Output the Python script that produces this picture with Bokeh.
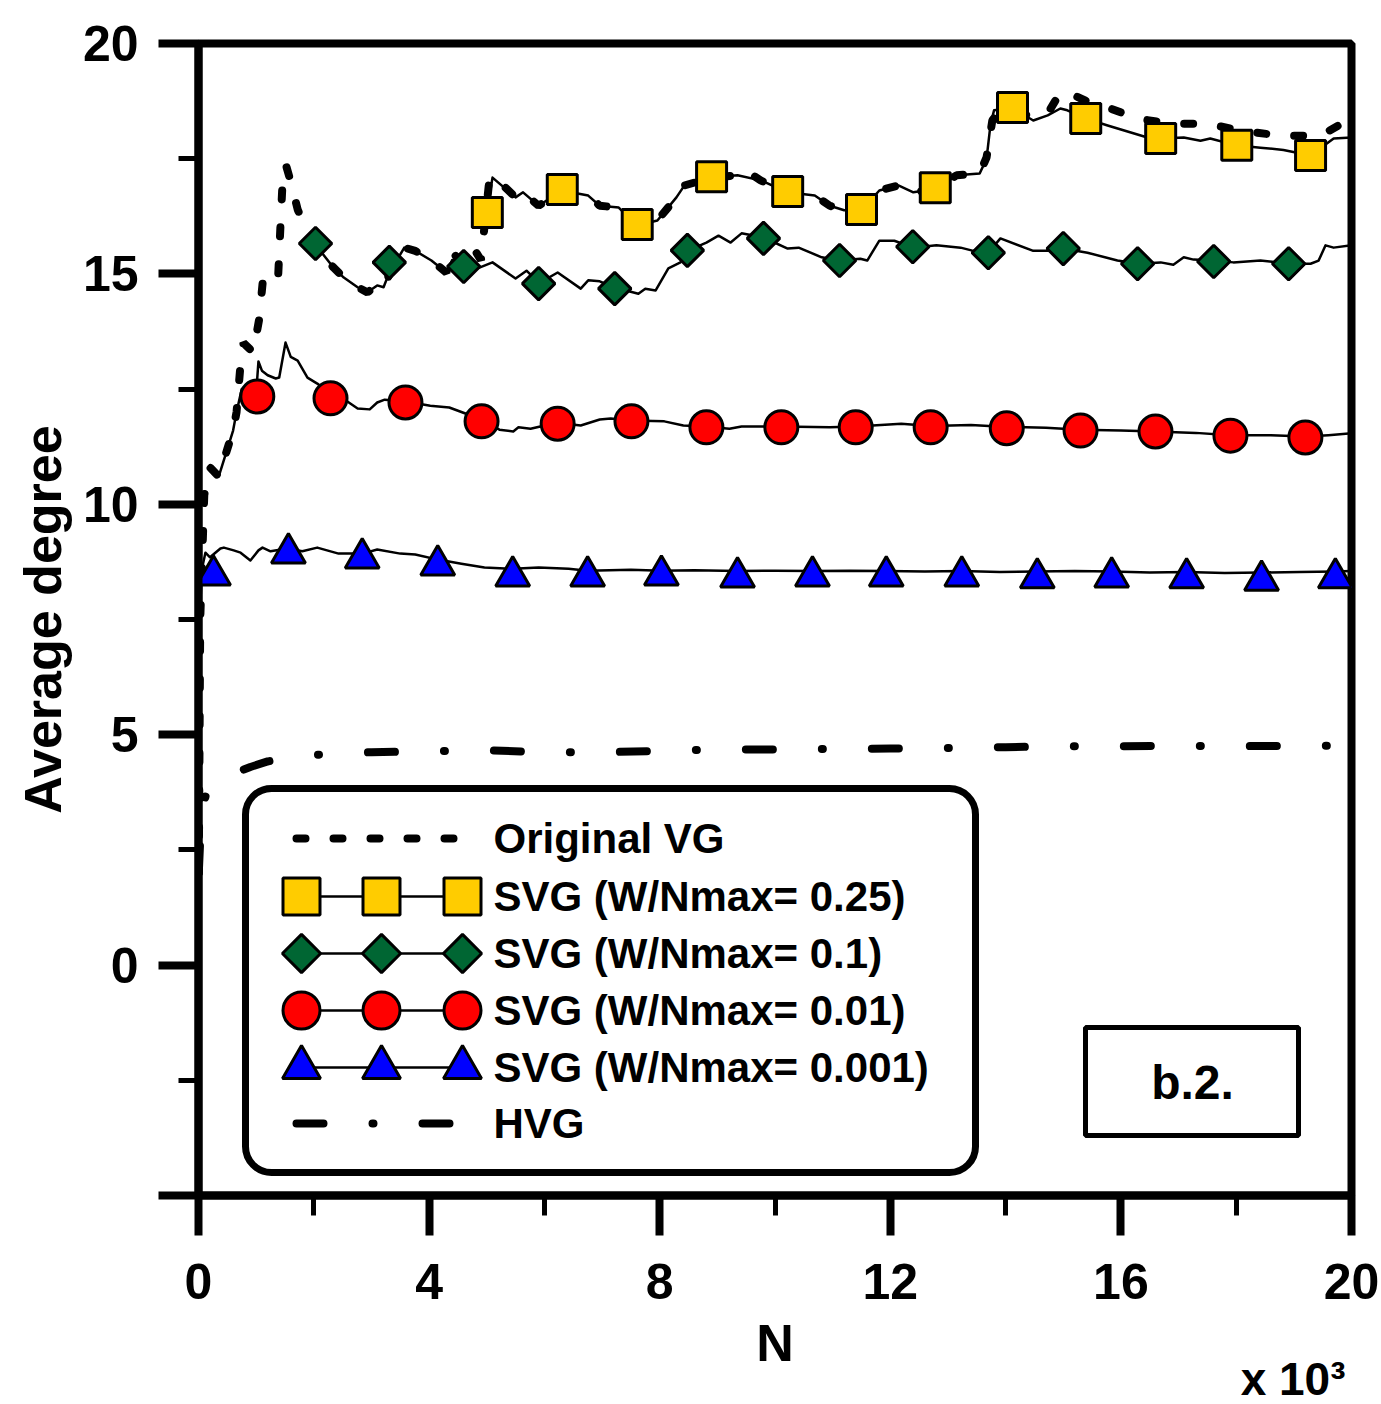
import math
from bokeh.plotting import figure
from bokeh.models import Range1d, SingleIntervalTicker, BoxAnnotation, Title
from bokeh.core.properties import value
from bokeh.embed import file_html
from bokeh.resources import INLINE

FONT = "Liberation Sans"

# ---- series (N in thousands, average degree) ----
vg_n = [0.005, 0.03, 0.1, 0.2, 0.35, 0.5, 0.6, 0.66, 0.72, 0.78, 0.95, 1.05, 1.12, 1.25, 1.38,
        1.42, 1.47, 1.52, 1.6, 1.72, 1.85, 2.0, 2.15, 2.34, 2.52, 2.76, 2.93, 3.1, 3.21, 3.35,
        3.57, 3.76, 4.04, 4.3, 4.4, 4.6, 4.8, 4.9, 5.05, 5.3, 5.5, 5.63, 5.9, 6.3, 6.76, 6.96,
        7.29, 7.6, 7.96, 8.29, 8.43, 8.9, 9.35, 9.49, 9.75, 10.22, 10.69, 10.95, 11.2, 11.5,
        11.81, 12.14, 12.4, 12.8, 13.15, 13.55, 13.67, 13.77, 13.9, 14.2, 14.48, 14.73, 14.95,
        15.07, 15.4, 15.77, 16.29, 16.86, 17.5, 18.07, 18.77, 19.46, 19.86, 20.0]
vg_k = [2.0, 7.5, 10.2, 10.8, 10.6, 11.2, 11.6, 12.0, 12.9, 13.5, 13.3, 14.0, 14.9, 14.8, 14.9,
        16.0, 17.3, 17.35, 17.0, 16.4, 16.0, 15.7, 15.4, 15.14, 14.92, 14.71, 14.6, 14.75, 14.71, 15.1,
        15.57, 15.5, 15.29, 15.03, 15.5, 15.14, 15.5, 15.3, 17.1, 16.9, 16.66, 16.77, 16.48, 16.81, 16.7, 16.48,
        16.44, 16.1, 16.16, 16.66, 16.92, 17.09, 17.14, 17.24, 17.03, 16.77, 16.7, 16.48, 16.38, 16.38,
        16.81, 16.92, 16.77, 16.85, 17.14, 17.18, 17.53, 18.33, 18.55, 18.5, 18.4, 18.48, 18.94,
        18.94, 18.75, 18.61, 18.37, 18.26, 18.26, 18.11, 18.0, 18.0, 18.28, 18.3]

w025_n = [5.0, 5.1, 5.5, 5.63, 5.9, 6.3, 6.76, 6.96, 7.29, 7.6, 7.96, 8.29, 8.43, 8.9, 9.35, 9.75,
          10.22, 10.69, 10.95, 11.2, 11.5, 11.81, 12.14, 12.4, 12.8, 13.15, 13.55, 13.67, 13.74,
          13.8, 14.12, 14.48, 14.73, 14.95, 15.07, 15.4, 15.77, 16.46, 16.69, 17.09, 17.38, 17.55,
          18.0, 18.42, 18.82, 19.29, 19.69, 20.0]
w025_k = [16.33, 17.09, 16.66, 16.77, 16.48, 16.81, 16.7, 16.48, 16.44, 16.05, 16.16, 16.66, 16.92, 17.09, 17.14, 17.03,
          16.77, 16.7, 16.48, 16.38, 16.38, 16.81, 16.92, 16.77, 16.85, 17.14, 17.18, 17.5, 18.26,
          18.55, 18.6, 18.33, 18.44, 18.59, 18.55, 18.37, 18.22, 17.96, 17.94, 17.96, 17.89, 17.94,
          17.79, 17.74, 17.69, 17.57, 17.94, 17.96]

w01_n = [2.0, 2.34, 2.52, 2.76, 2.93, 3.1, 3.21, 3.3, 3.57, 3.76, 4.04, 4.3, 4.4, 4.6, 4.84,
         5.1, 5.5, 5.69, 5.91, 6.23, 6.63, 6.76, 6.96, 7.2, 7.63, 7.75, 7.93, 8.15, 8.36, 8.5,
         8.81, 9.02, 9.23, 9.42, 9.8, 10.22, 10.41, 10.81, 11.12, 11.48, 11.6, 11.81, 12.07, 12.4, 12.8,
         13.22, 13.44, 13.7, 13.91, 14.48, 14.73, 15.0, 15.42, 15.94, 16.3, 16.69, 16.91, 17.09, 17.26, 17.61,
         17.95, 18.42, 18.91, 19.29, 19.43, 19.55, 19.69, 20.0]
w01_k = [15.68, 15.14, 14.92, 14.71, 14.6, 14.75, 14.71, 15.0, 15.57, 15.5, 15.29, 15.03, 15.3, 15.14, 15.12,
         15.25, 14.9, 15.07, 14.8, 15.03, 14.68, 14.86, 14.84, 14.71, 14.57, 14.68, 14.64, 15.12, 15.25, 15.51,
         15.68, 15.83, 15.68, 15.88, 15.79, 15.55, 15.57, 15.36, 15.29, 15.33, 15.29, 15.72, 15.72, 15.57, 15.62,
         15.57, 15.5, 15.46, 15.77, 15.5, 15.5, 15.55, 15.46, 15.29, 15.22, 15.25, 15.2, 15.36, 15.31, 15.29,
         15.25, 15.29, 15.22, 15.22, 15.29, 15.62, 15.57, 15.62]

w001_n = [0.2, 0.35, 0.5, 0.6, 0.66, 0.75, 0.9, 1.0, 1.04, 1.1, 1.2, 1.34, 1.4, 1.51, 1.6, 1.72, 1.89, 2.06,
          2.29, 2.5, 2.76, 2.97, 3.1, 3.23, 3.6, 4.02, 4.35, 4.63, 4.91, 5.22, 5.46, 5.55, 5.76,
          6.21, 6.63, 6.96, 7.15, 7.49, 8.08, 8.41, 8.79, 9.21, 9.42, 10.11, 10.95, 11.41, 12.19, 12.7,
          13.4, 14.02, 14.7, 15.3, 16.0, 16.6, 17.3, 17.9, 18.6, 19.2, 19.6, 20.0]
w001_k = [10.8, 10.6, 11.2, 11.6, 12.0, 12.5, 12.5, 12.4, 13.1, 12.9, 12.8, 12.73, 12.75, 13.51, 13.2, 13.12, 12.75, 12.62,
          12.4, 12.3, 12.08, 12.06, 12.21, 12.27, 12.23, 12.14, 12.1, 11.97, 11.82, 11.62, 11.58, 11.67, 11.64,
          11.77, 11.71, 11.84, 11.86, 11.82, 11.8, 11.71, 11.69, 11.64, 11.69, 11.69, 11.67, 11.69, 11.75, 11.7,
          11.72, 11.68, 11.66, 11.62, 11.6, 11.58, 11.55, 11.5, 11.5, 11.47, 11.5, 11.54]

w0001_n = [0.005, 0.02, 0.06, 0.12, 0.2, 0.38, 0.44, 0.61, 0.73, 0.9, 1.04, 1.11, 1.25, 1.54, 1.8, 2.06,
           2.43, 2.85, 3.1, 3.5, 3.76, 4.15, 4.56, 4.96, 5.46, 5.9, 6.42, 6.75, 7.5, 8.03, 8.6,
           9.35, 10.0, 10.65, 11.3, 11.93, 12.6, 13.24, 13.9, 14.55, 15.2, 15.84, 16.5, 17.14, 17.8, 18.44,
           19.1, 19.72, 20.0]
w0001_k = [2.0, 7.5, 8.6, 8.95, 8.85, 9.04, 9.06, 9.0, 8.95, 8.78, 9.0, 9.06, 8.98, 9.04, 8.98, 9.06,
           8.93, 8.93, 9.02, 8.93, 8.91, 8.8, 8.71, 8.63, 8.6, 8.63, 8.6, 8.56, 8.58, 8.56, 8.57,
           8.55, 8.56, 8.55, 8.56, 8.55, 8.54, 8.55, 8.53, 8.54, 8.55, 8.54, 8.52, 8.53, 8.51, 8.52,
           8.53, 8.54, 8.55]

hvg_n = [0.005, 0.05, 0.15, 0.3, 0.5, 0.7, 0.9, 1.2, 1.6, 2.0, 2.5, 3.0, 4.0, 5.0, 6.0, 7.0, 8.0,
         9.0, 10.0, 11.0, 12.0, 13.0, 14.0, 15.0, 16.0, 17.0, 18.0, 19.0, 20.0]
hvg_k = [2.0, 3.3, 3.8, 3.95, 4.05, 4.2, 4.3, 4.42, 4.5, 4.56, 4.6, 4.62, 4.64, 4.66, 4.62, 4.62, 4.65,
         4.68, 4.68, 4.69, 4.7, 4.71, 4.73, 4.75, 4.75, 4.76, 4.75, 4.76, 4.76]

# ---- marker samples ----
sq_n = [5.01, 6.31, 7.61, 8.90, 10.22, 11.50, 12.78, 14.12, 15.39, 16.69, 18.01, 19.29]
sq_k = [16.33, 16.83, 16.07, 17.11, 16.79, 16.40, 16.87, 18.61, 18.37, 17.94, 17.79, 17.57]
dm_n = [2.03, 3.31, 4.60, 5.90, 7.22, 8.48, 9.80, 11.12, 12.39, 13.70, 15.00, 16.29, 17.61, 18.91]
dm_k = [15.66, 15.25, 15.16, 14.79, 14.68, 15.51, 15.77, 15.29, 15.59, 15.46, 15.55, 15.22, 15.27, 15.22]
ci_n = [1.02, 2.29, 3.59, 4.91, 6.23, 7.51, 8.81, 10.11, 11.40, 12.70, 14.02, 15.30, 16.60, 17.90, 19.20]
ci_k = [12.34, 12.30, 12.21, 11.80, 11.75, 11.80, 11.67, 11.67, 11.67, 11.67, 11.65, 11.60, 11.58, 11.49, 11.45]
tr_n = [0.26, 1.56, 2.84, 4.15, 5.45, 6.75, 8.03, 9.35, 10.65, 11.93, 13.24, 14.55, 15.84, 17.14, 18.44, 19.72]
tr_k = [8.46, 8.94, 8.83, 8.68, 8.44, 8.44, 8.46, 8.42, 8.44, 8.44, 8.44, 8.40, 8.42, 8.40, 8.35, 8.40]

legend_labels = ["Original VG", "SVG (W/Nmax= 0.25)", "SVG (W/Nmax= 0.1)",
                 "SVG (W/Nmax= 0.01)", "SVG (W/Nmax= 0.001)", "HVG"]

YELLOW = "#FFCC00"
GREEN = "#006633"
RED = "#FF0000"
BLUE = "#0000FF"
DOT = "9 28"
DASHDOT = "27 49 1 49"

FW, FH = 1153, 1152

p = figure(frame_width=FW, frame_height=FH,
           min_border_left=198, min_border_right=30, min_border_top=43, min_border_bottom=209,
           x_range=Range1d(0, 20), y_range=Range1d(-5, 20),
           output_backend="svg", toolbar_location=None,
           background_fill_color="white", border_fill_color="white")
p.outline_line_color = "black"
p.outline_line_width = 8
p.xgrid.visible = False
p.ygrid.visible = False

# pixel ranges for the in-plot legend and the panel tag (origin at frame top-left)
p.extra_x_ranges = {"px": Range1d(0, FW)}
p.extra_y_ranges = {"py": Range1d(FH, 0)}

p.xaxis.ticker = SingleIntervalTicker(interval=4, num_minor_ticks=2)
p.yaxis.ticker = SingleIntervalTicker(interval=5, num_minor_ticks=2)
p.yaxis.major_label_overrides = {-5: ""}
p.xaxis.axis_label = "N"
p.yaxis.axis_label = "Average degree"

for ax in (p.xaxis[0], p.yaxis[0]):
    ax.axis_line_width = 8
    ax.major_tick_line_width = 8
    ax.minor_tick_line_width = 5
    ax.major_tick_out = 40
    ax.major_tick_in = 0
    ax.minor_tick_out = 20
    ax.minor_tick_in = 0
    ax.major_label_text_font = FONT
    ax.major_label_text_font_style = "bold"
    ax.major_label_text_font_size = "50px"
    ax.major_label_text_color = "black"
    ax.axis_label_text_font = FONT
    ax.axis_label_text_font_style = "bold"
    ax.axis_label_text_font_size = "52px"
    ax.axis_label_text_color = "black"
p.yaxis.major_label_standoff = 20
p.xaxis.major_label_standoff = 28
p.yaxis.axis_label_standoff = 8
p.xaxis.axis_label_standoff = 12

# axis multiplier, right-aligned under the N label
p.add_layout(Title(text="x 10³", align="right", offset=6, standoff=-47,
                   text_font=FONT, text_font_style="bold", text_font_size="46px",
                   text_color="black"), "below")

# ---- curves ----
thin = dict(line_color="black", line_width=2.5, line_join="round")
p.line(w0001_n, w0001_k, **thin)
p.line(w001_n, w001_k, **thin)
p.line(w01_n, w01_k, **thin)
p.line(w025_n, w025_k, **thin)
p.line(hvg_n, hvg_k, line_color="black", line_width=8, line_dash=DASHDOT, line_cap="round")
p.line(vg_n, vg_k, line_color="black", line_width=8, line_dash=DOT, line_cap="round")

mk = dict(line_color="black", line_width=3)
p.scatter(tr_n, tr_k, marker="triangle", size=34, fill_color=BLUE, **mk)
p.scatter(ci_n, ci_k, marker="circle", size=33, fill_color=RED, **mk)
p.scatter(dm_n, dm_k, marker="square", angle=math.pi / 4, size=23, fill_color=GREEN, **mk)
p.scatter(sq_n, sq_k, marker="square", size=30, fill_color=YELLOW, **mk)

# ---- legend (drawn in frame pixels) ----
PX = dict(x_range_name="px", y_range_name="py")
p.add_layout(BoxAnnotation(left=47, right=777, top=745, bottom=1129, border_radius=26,
                           fill_color="white", fill_alpha=1, line_color="black", line_alpha=1,
                           line_width=7, level="underlay", **PX))
rows = [795, 853, 910, 967, 1024, 1080]
sx = [103, 183, 264]
p.line([98, 262], [rows[0]] * 2, line_color="black", line_width=8, line_dash=DOT, line_cap="round", **PX)
for r, (mname, ang, sz, col) in zip(rows[1:5], [("square", 0, 37, YELLOW),
                                                ("square", math.pi / 4, 27, GREEN),
                                                ("circle", 0, 37, RED),
                                                ("triangle", 0, 38, BLUE)]):
    p.line([sx[0], sx[2]], [r, r], line_color="black", line_width=2.5, **PX)
    p.scatter(sx, [r] * 3, marker=mname, angle=ang, size=sz, fill_color=col, **mk, **PX)
p.line([98, 252], [rows[5]] * 2, line_color="black", line_width=8, line_dash=DASHDOT, line_cap="round", **PX)
p.text([295] * 6, rows, text=legend_labels, text_font=value(FONT), text_font_style="bold",
       text_font_size="42px", text_baseline="middle", text_align="left", text_color="black", **PX)

# panel tag
p.add_layout(BoxAnnotation(left=887, right=1100, top=984, bottom=1092, fill_color="white",
                           fill_alpha=1, line_color="black", line_alpha=1, line_width=5,
                           level="underlay", **PX))
p.text([994], [1039], text=["b.2."], text_font=value(FONT), text_font_style="bold",
       text_font_size="48px", text_baseline="middle", text_align="center", text_color="black", **PX)

open("out.html", "w").write(file_html(p, INLINE))
